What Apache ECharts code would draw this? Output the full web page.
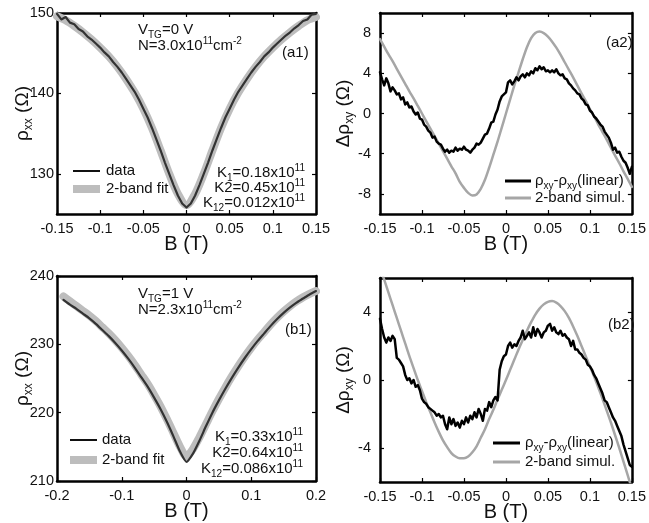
<!DOCTYPE html>
<html><head><meta charset="utf-8">
<script src="https://cdn.jsdelivr.net/npm/echarts@6/dist/echarts.min.js"></script>
<style>html,body{margin:0;padding:0;background:#fff}#c{width:649px;height:523px}</style>
</head><body><div id="c"></div>
<script>
// ---------- data ----------
const B_a1 = [-0.15,-0.145,-0.14,-0.135,-0.13,-0.125,-0.12,-0.115,-0.11,-0.105,-0.1,-0.095,-0.09,-0.085,-0.08,-0.075,-0.07,-0.065,-0.06,-0.055,-0.05,-0.045,-0.04,-0.035,-0.03,-0.025,-0.02,-0.015,-0.01,-0.005,0,0.005,0.01,0.015,0.02,0.025,0.03,0.035,0.04,0.045,0.05,0.055,0.06,0.065,0.07,0.075,0.08,0.085,0.09,0.095,0.1,0.105,0.11,0.115,0.12,0.125,0.13,0.135,0.14,0.145,0.15];
const rho_a1_data = [149.9,149.2,149.5,148.8,148.6,148.0,147.7,147.1,146.7,146.2,145.7,145.1,144.6,143.9,143.3,142.6,141.8,141.0,140.2,139.2,138.1,137.0,135.7,134.3,132.9,131.4,130.0,128.6,127.3,126.3,125.8,126.3,127.3,128.6,130.0,131.4,132.9,134.3,135.7,137.0,138.1,139.2,140.2,141.0,141.8,142.6,143.3,143.9,144.6,145.1,145.7,146.2,146.7,147.2,147.6,148.1,148.5,149.0,149.2,149.8,149.9];
const B_a1_fit = [-0.15,-0.14,-0.13,-0.12,-0.11,-0.1,-0.09,-0.08,-0.07,-0.06,-0.05,-0.04,-0.03,-0.02,-0.01,0,0.01,0.02,0.03,0.04,0.05,0.06,0.07,0.08,0.09,0.1,0.11,0.12,0.13,0.14,0.15];
const rho_a1_fit = [149.6,149.1,148.4,147.6,146.7,145.7,144.6,143.3,141.8,140.1,138.1,135.7,132.9,130.0,127.5,126.1,127.5,130.0,132.9,135.7,138.1,140.1,141.8,143.3,144.6,145.7,146.7,147.6,148.4,149.1,149.5];

const B_b1 = [-0.19,-0.18,-0.17,-0.16,-0.15,-0.14,-0.13,-0.12,-0.11,-0.1,-0.09,-0.08,-0.07,-0.06,-0.05,-0.04,-0.03,-0.02,-0.01,0,0.01,0.02,0.03,0.04,0.05,0.06,0.07,0.08,0.09,0.1,0.11,0.12,0.13,0.14,0.15,0.16,0.17,0.18,0.19,0.2];
const rho_b1_data = [236.5,235.8,235.2,234.5,233.8,233.0,232.1,231.2,230.2,229.1,227.9,226.6,225.2,223.8,222.2,220.5,218.6,216.5,214.3,212.8,214.0,215.9,218.0,220.0,221.8,223.5,225.1,226.6,228.0,229.3,230.5,231.6,232.7,233.7,234.6,235.4,236.1,236.7,237.3,237.8];
const rho_b1_fit = [237.0,236.3,235.6,234.9,234.2,233.4,232.5,231.6,230.6,229.5,228.3,227.0,225.6,224.2,222.6,220.9,219.0,217.0,215.0,213.6,214.7,216.4,218.3,220.2,222.0,223.7,225.3,226.8,228.2,229.5,230.7,231.8,232.9,233.9,234.8,235.6,236.3,236.9,237.4,237.8];

const B_fine = [-0.15,-0.1475,-0.145,-0.1425,-0.14,-0.1375,-0.135,-0.1325,-0.13,-0.1275,-0.125,-0.1225,-0.12,-0.1175,-0.115,-0.1125,-0.11,-0.1075,-0.105,-0.1025,-0.1,-0.0975,-0.095,-0.0925,-0.09,-0.0875,-0.085,-0.0825,-0.08,-0.0775,-0.075,-0.0725,-0.07,-0.0675,-0.065,-0.0625,-0.06,-0.0575,-0.055,-0.0525,-0.05,-0.0475,-0.045,-0.0425,-0.04,-0.0375,-0.035,-0.0325,-0.03,-0.0275,-0.025,-0.0225,-0.02,-0.0175,-0.015,-0.0125,-0.01,-0.0075,-0.005,-0.0025,0,0.0025,0.005,0.0075,0.01,0.0125,0.015,0.0175,0.02,0.0225,0.025,0.0275,0.03,0.0325,0.035,0.0375,0.04,0.0425,0.045,0.0475,0.05,0.0525,0.055,0.0575,0.06,0.0625,0.065,0.0675,0.07,0.0725,0.075,0.0775,0.08,0.0825,0.085,0.0875,0.09,0.0925,0.095,0.0975,0.1,0.1025,0.105,0.1075,0.11,0.1125,0.115,0.1175,0.12,0.1225,0.125,0.1275,0.13,0.1325,0.135,0.1375,0.14,0.1425,0.145,0.1475,0.15];
const drho_a2_data = [4.1,3.4,2.8,3.5,3.0,2.2,2.6,2.3,1.9,2.0,1.4,1.6,0.9,1.1,0.6,0.7,0.2,-0.1,0.1,-0.5,-0.6,-1.1,-1.3,-1.7,-1.9,-2.4,-2.3,-2.8,-3.0,-3.1,-3.5,-3.8,-3.6,-3.9,-3.7,-3.8,-3.4,-3.7,-3.5,-3.6,-3.3,-3.6,-3.7,-3.9,-3.6,-3.4,-3.0,-3.1,-2.9,-2.5,-2.1,-2.0,-1.5,-0.9,-0.8,-0.1,0.4,1.2,1.7,1.9,2.1,3.1,3.3,2.9,3.2,3.6,3.3,3.7,3.9,3.6,4.0,3.8,4.2,4.0,4.5,4.3,4.7,4.4,4.6,4.2,4.3,4.1,4.3,4.1,4.4,4.0,3.8,3.9,3.5,3.4,3.0,2.8,2.5,2.3,2.0,1.9,1.5,1.3,0.9,0.8,0.3,0.1,-0.3,-0.5,-0.8,-1.1,-1.3,-1.8,-2.1,-2.4,-2.9,-3.6,-3.4,-3.9,-3.8,-4.3,-4.7,-4.9,-5.4,-6.0,-5.3];
const drho_b2_data = [3.6,3.0,2.5,2.2,2.5,2.3,2.6,2.4,1.3,1.2,1.0,0.8,0.3,0.0,0.1,-0.2,0.0,-0.4,-0.3,-0.6,-1.1,-1.3,-1.4,-1.6,-1.7,-1.8,-1.9,-2.1,-2.0,-2.2,-2.1,-2.6,-2.9,-2.2,-2.6,-2.3,-2.7,-2.5,-2.8,-2.4,-2.6,-2.2,-2.5,-2.1,-2.3,-1.9,-2.2,-1.7,-2.0,-2.4,-1.7,-1.8,-1.3,-1.6,-1.2,-1.0,-1.2,0.6,1.1,1.4,1.5,2.0,2.2,1.9,2.1,2.0,2.3,2.5,2.9,2.4,2.6,2.8,2.5,3.1,2.6,3.0,2.8,2.5,2.8,2.9,3.2,3.3,2.9,3.1,2.8,2.7,2.9,2.6,2.7,2.5,2.4,2.0,2.3,1.8,1.8,1.6,1.5,1.3,1.2,0.9,0.8,0.6,0.3,0.1,-0.2,-0.5,-0.8,-1.2,-1.3,-1.6,-1.9,-2.2,-2.4,-2.7,-3.0,-3.3,-3.8,-4.2,-4.6,-5.0,-5.1];

const B_sim = [-0.15,-0.145,-0.14,-0.135,-0.13,-0.125,-0.12,-0.115,-0.11,-0.105,-0.1,-0.095,-0.09,-0.085,-0.08,-0.075,-0.07,-0.065,-0.06,-0.055,-0.05,-0.045,-0.04,-0.035,-0.03,-0.025,-0.02,-0.015,-0.01,-0.005,0,0.005,0.01,0.015,0.02,0.025,0.03,0.035,0.04,0.045,0.05,0.055,0.06,0.065,0.07,0.075,0.08,0.085,0.09,0.095,0.1,0.105,0.11,0.115,0.12,0.125,0.13,0.135,0.14,0.145,0.15];
const drho_a2_sim = [7.4,6.65,5.9,5.2,4.45,3.7,2.95,2.2,1.5,0.75,0.0,-0.75,-1.5,-2.25,-3.0,-3.75,-4.5,-5.25,-5.95,-6.8,-7.4,-7.9,-8.15,-8.05,-7.5,-6.6,-5.4,-4.1,-2.8,-1.4,0.0,1.4,2.8,4.1,5.4,6.6,7.5,8.0,8.15,8.0,7.65,7.15,6.55,5.85,5.1,4.35,3.6,2.8,2.0,1.25,0.45,-0.3,-1.1,-1.85,-2.6,-3.4,-4.2,-4.95,-5.75,-6.5,-7.3];
const drho_b2_sim = [6.6,5.9,5.15,4.4,3.65,2.9,2.15,1.4,0.7,0.0,-0.65,-1.3,-1.9,-2.5,-3.05,-3.55,-3.95,-4.3,-4.5,-4.6,-4.6,-4.5,-4.25,-3.9,-3.4,-2.9,-2.3,-1.75,-1.15,-0.58,0.0,0.6,1.2,1.8,2.35,2.9,3.4,3.85,4.2,4.45,4.6,4.64,4.55,4.35,4.05,3.65,3.15,2.6,2.0,1.4,0.8,0.2,-0.45,-1.1,-1.8,-2.5,-3.25,-4.0,-4.8,-5.6,-6.4];

const yTicks_a1 = [130,140,150];
const yTicks_a2 = [-8,-4,0,4,8];
const yTicks_b2 = [-4,0,4];

// ---------- styling ----------
const FF = 'Liberation Sans, Arial, sans-serif';
const INK = '#111';
const zip = (xs, ys) => xs.map((x, i) => [x, ys[i]]);
const fmtX = v => String(+(+v).toFixed(2));

const grids = [
  {left: 57, top: 13, width: 259, height: 201},
  {left: 380, top: 13, width: 257, height: 201},
  {left: 57, top: 276, width: 259, height: 205},
  {left: 380, top: 278, width: 257, height: 204}
];
const xr = [[-0.15,0.15,0.05],[-0.15,0.15,0.05],[-0.2,0.2,0.1],[-0.15,0.15,0.05]];
const yr = [[125,150,yTicks_a1],[-10,10,yTicks_a2],[210,240,null],[-6,6,yTicks_b2]];
const yLabMargin = [3, 9, 3, 9];
const yNameGap = [22, 24, 22, 24];
const line = {show: true, onZero: false, lineStyle: {color: '#000', width: 2.5}};
const tick = (cv) => Object.assign({show: true, inside: true, length: 4, lineStyle: {color: '#000', width: 1.2}}, cv ? {customValues: cv} : {});

const xAxis = [], yAxis = [];
const yNames = ['{r|ρ}{s|xx}{r| (Ω)}', '{r|Δρ}{s|xy}{r| (Ω)}', '{r|ρ}{s|xx}{r| (Ω)}', '{r|Δρ}{s|xy}{r| (Ω)}'];
const nameRich = {
  r: {fontSize: 19, fontFamily: FF, color: INK, lineHeight: 24},
  s: {fontSize: 12, fontFamily: FF, color: INK, lineHeight: 12, verticalAlign: 'bottom'}
};
grids.forEach((g, i) => {
  const [mn, mx, iv] = xr[i];
  xAxis.push({gridIndex: i, type: 'value', position: 'bottom', min: mn, max: mx, interval: iv,
    axisLine: line, axisTick: tick(), splitLine: {show: false},
    axisLabel: {fontSize: 14.5, fontFamily: FF, color: INK, margin: 7, formatter: fmtX, showMinLabel: true, showMaxLabel: true},
    name: 'B (T)', nameLocation: 'middle', nameGap: 20, nameMoveOverlap: false,
    nameTextStyle: {fontSize: 20, fontFamily: FF, color: INK}});
  xAxis.push({gridIndex: i, type: 'value', position: 'top', min: mn, max: mx, interval: iv,
    axisLine: line, axisTick: tick(), splitLine: {show: false}, axisLabel: {show: false}});
  const [ymn, ymx, cv] = yr[i];
  const ya = {gridIndex: i, type: 'value', position: 'left', min: ymn, max: ymx,
    axisLine: line, axisTick: tick(cv), splitLine: {show: false},
    axisLabel: Object.assign({fontSize: 14.5, fontFamily: FF, color: INK, margin: yLabMargin[i], showMinLabel: true, showMaxLabel: true}, cv ? {customValues: cv} : {}),
    name: yNames[i], nameLocation: 'middle', nameRotate: 90, nameGap: yNameGap[i], nameMoveOverlap: false,
    nameTextStyle: {rich: nameRich}};
  if (!cv) ya.interval = 10;
  yAxis.push(ya);
  const yb = {gridIndex: i, type: 'value', position: 'right', min: ymn, max: ymx,
    axisLine: line, axisTick: tick(cv), splitLine: {show: false}, axisLabel: {show: false}};
  if (!cv) yb.interval = 10;
  yAxis.push(yb);
});

const mk = (gi, data, color, width, z, smooth) => ({
  type: 'line', xAxisIndex: gi * 2, yAxisIndex: gi * 2, data, showSymbol: false, symbol: 'none',
  smooth: smooth || false, z, clip: true, animation: false,
  lineStyle: {color, width, cap: 'round', join: 'round'}
});
const series = [
  mk(0, zip(B_a1_fit, rho_a1_fit), '#bdbdbd', 8, 2, 0.3),
  mk(0, zip(B_a1, rho_a1_data), '#333', 2.2, 3),
  mk(1, zip(B_sim, drho_a2_sim), '#a6a6a6', 2.5, 2, 0.3),
  mk(1, zip(B_fine, drho_a2_data), '#000', 2.5, 3),
  mk(2, zip(B_b1, rho_b1_fit), '#bdbdbd', 8, 2, 0.3),
  mk(2, zip(B_b1, rho_b1_data), '#333', 2.2, 3, 0.2),
  mk(3, zip(B_sim, drho_b2_sim), '#a6a6a6', 2.5, 2, 0.3),
  mk(3, zip(B_fine, drho_b2_data), '#000', 2.5, 3)
];

// ---------- annotations ----------
const rich = {
  n: {fontSize: 15, fontFamily: FF, fill: INK, lineHeight: 20},
  sb: {fontSize: 10, fontFamily: FF, fill: INK, lineHeight: 10, verticalAlign: 'bottom'},
  sp: {fontSize: 10, fontFamily: FF, fill: INK, lineHeight: 10, verticalAlign: 'top'}
};
const txt = (x, y, text, align) => ({type: 'text', x, y, z: 100,
  style: {text, rich, fill: INK, fontSize: 15, fontFamily: FF, align: align || 'left', verticalAlign: 'middle', textAlign: align || 'left', textVerticalAlign: 'middle'}});
const seg = (x1, x2, y, color, w) => ({type: 'line', z: 100, shape: {x1, y1: y, x2, y2: y}, style: {stroke: color, lineWidth: w}});

const graphic = [
  // a1
  txt(138, 30, '{n|V}{sb|TG}{n|=0 V}'),
  txt(138, 46, '{n|N=3.0x10}{sp|11}{n|cm}{sp|-2}'),
  txt(282, 53, '{n|(a1)}'),
  seg(73, 100, 171, '#111', 2), txt(106, 171, '{n|data}'),
  seg(73, 100, 189, '#bdbdbd', 8), txt(106, 189, '{n|2-band fit}'),
  txt(305, 173, '{n|K}{sb|1}{n|=0.18x10}{sp|11}', 'right'),
  txt(305, 188, '{n|K2=0.45x10}{sp|11}', 'right'),
  txt(305, 203, '{n|K}{sb|12}{n|=0.012x10}{sp|11}', 'right'),
  // a2
  txt(606, 43, '{n|(a2)}'),
  seg(505, 531, 181, '#000', 3), txt(535, 181, '{n|ρ}{sb|xy}{n|-ρ}{sb|xy}{n|(linear)}'),
  seg(505, 531, 198, '#a6a6a6', 3), txt(535, 198, '{n|2-band simul.}'),
  // b1
  txt(138, 294, '{n|V}{sb|TG}{n|=1 V}'),
  txt(138, 310, '{n|N=2.3x10}{sp|11}{n|cm}{sp|-2}'),
  txt(285, 330, '{n|(b1)}'),
  seg(70, 97, 440, '#111', 2), txt(102, 440, '{n|data}'),
  seg(70, 97, 460, '#bdbdbd', 8), txt(102, 460, '{n|2-band fit}'),
  txt(303, 437, '{n|K}{sb|1}{n|=0.33x10}{sp|11}', 'right'),
  txt(303, 453, '{n|K2=0.64x10}{sp|11}', 'right'),
  txt(303, 469, '{n|K}{sb|12}{n|=0.086x10}{sp|11}', 'right'),
  // b2
  txt(608, 325, '{n|(b2)}'),
  seg(493, 520, 443, '#000', 3), txt(525, 443, '{n|ρ}{sb|xy}{n|-ρ}{sb|xy}{n|(linear)}'),
  seg(493, 520, 462, '#a6a6a6', 3), txt(525, 462, '{n|2-band simul.}')
];

const chart = echarts.init(document.getElementById('c'), null, {renderer: 'canvas'});
chart.setOption({
  animation: false,
  backgroundColor: '#fff',
  grid: grids.map(g => Object.assign({containLabel: false}, g)),
  xAxis, yAxis, series, graphic
});
</script>
</body></html>
